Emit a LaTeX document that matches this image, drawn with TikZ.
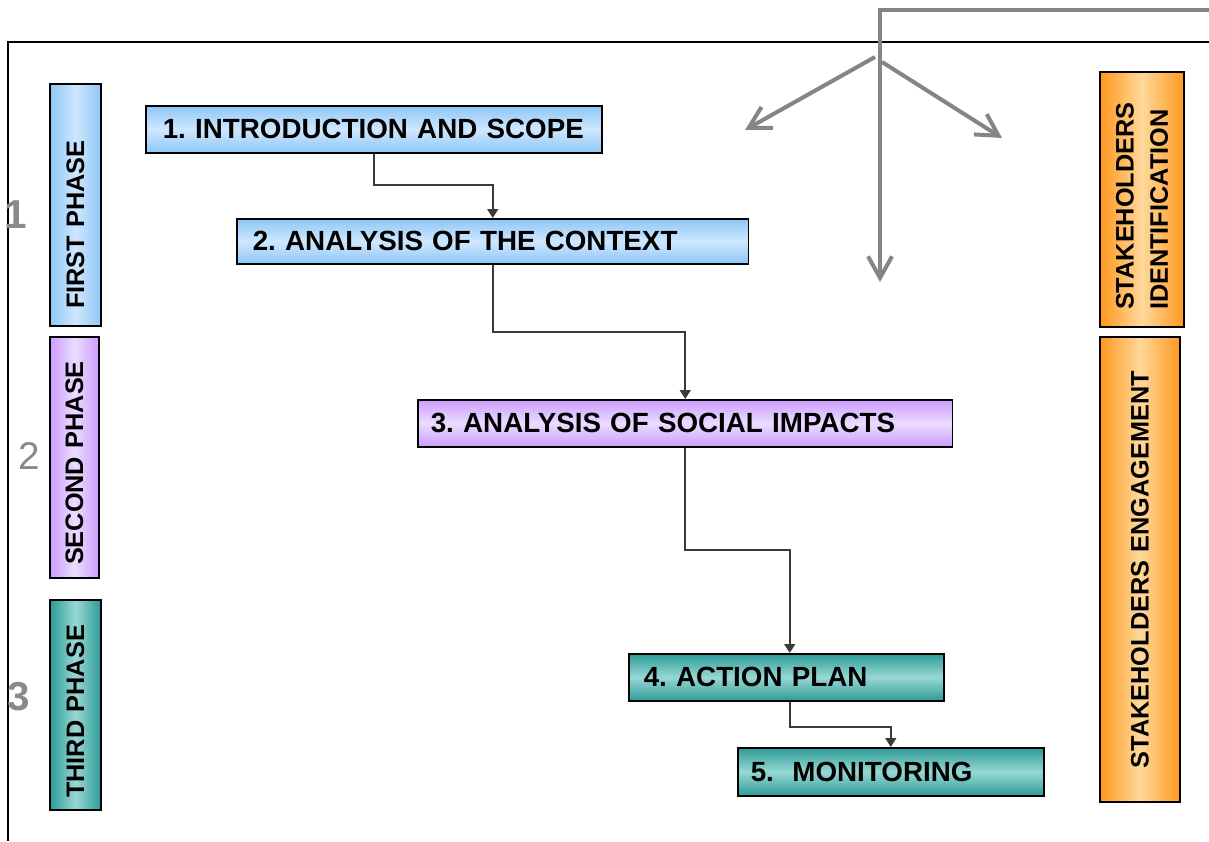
\documentclass[tikz,border=0pt]{standalone}
\usepackage{fontspec}
\setmainfont{Liberation Sans}
\usetikzlibrary{arrows.meta}
\definecolor{blueE}{HTML}{8EC6F6}
\definecolor{blueM}{HTML}{CFE7FF}
\definecolor{purpE}{HTML}{CC9CFF}
\definecolor{purpM}{HTML}{EBDCFF}
\definecolor{tealE}{HTML}{2C9B97}
\definecolor{tealM}{HTML}{98D8D4}
\definecolor{oranE}{HTML}{FF981E}
\definecolor{oranM}{HTML}{FFD89A}
\definecolor{garrow}{HTML}{858585}
\definecolor{conncol}{HTML}{3A3A3A}
\definecolor{numcol}{HTML}{8A8A8A}
\frenchspacing
\begin{document}
\begin{tikzpicture}[x=0.02cm,y=-0.02cm,
  boxfont/.style={font=\fontsize{15.8}{19.5}\selectfont\bfseries},
  vfont/.style={font=\fontsize{14.4}{19.5}\selectfont\bfseries},
  flow/.style={boxfont, draw=black, line width=0.9pt, align=left, anchor=north west, inner ysep=0pt},
  vbox/.style={vfont, draw=black, line width=0.9pt, align=left, rotate=90, anchor=center, inner ysep=0pt},
  hblue/.style={top color=blueE, bottom color=blueE, middle color=blueM},
  hpurp/.style={top color=purpE, bottom color=purpE, middle color=purpM},
  hteal/.style={top color=tealE, bottom color=tealE, middle color=tealM},
  vblue/.style={left color=blueE, right color=blueE, middle color=blueM},
  vpurp/.style={left color=purpE, right color=purpE, middle color=purpM},
  vteal/.style={left color=tealE, right color=tealE, middle color=tealM},
  voran/.style={left color=oranE, right color=oranE, middle color=oranM},
  conn/.style={draw=conncol, line width=1.2pt, -{Triangle[length=5pt,width=6pt]}},
  grayarr/.style={draw=garrow, line width=2.3pt, -{Straight Barb[length=4.3mm,width=4.8mm]}},
  numlabel/.style={text=numcol, font=\fontsize{23}{26}\selectfont\bfseries, inner sep=0pt},
  frame/.style={draw=black, line width=1.2pt}
]
\useasboundingbox (0,0) rectangle (1209,841);

% outer frame
\coordinate (fTR) at (1209,42);
\coordinate (fTL) at (8,42);
\coordinate (fBL) at (8,841);
\draw[frame] (fTR) -- (fTL) -- (fBL);

% phase boxes (left)
\node[vbox, vblue, text width=4.84cm-0.68cm, inner xsep=0.34cm, minimum height=1.02cm] (p1) at (75.5,205) {FIRST PHASE};
\node[vbox, vpurp, text width=4.82cm-0.52cm, inner xsep=0.26cm, minimum height=0.98cm] (p2) at (74.5,457.5) {SECOND PHASE};
\node[vbox, vteal, text width=4.2cm-0.48cm, inner xsep=0.24cm, minimum height=1.02cm] (p3) at (75.5,705) {THIRD PHASE};

% phase numbers
\node[numlabel] (n1) at (16,215) {1};
\node[numlabel, font=\fontsize{22}{26}\selectfont] (n2) at (29,456) {2};
\node[numlabel] (n3) at (19,697) {3};

% flow boxes
\node[flow, hblue, text width=9.12cm-0.68cm, inner xsep=0.34cm, minimum height=0.94cm] (b1) at (145,105) {1. INTRODUCTION AND SCOPE};
\node[flow, hblue, text width=10.24cm-0.64cm, inner xsep=0.32cm, minimum height=0.9cm] (b2) at (236,218) {2. ANALYSIS OF THE CONTEXT};
\node[flow, hpurp, text width=10.7cm-0.52cm, inner xsep=0.26cm, minimum height=0.94cm] (b3) at (417,399) {3. ANALYSIS OF SOCIAL IMPACTS};
\node[flow, hteal, text width=6.3cm-0.6cm, inner xsep=0.3cm, minimum height=0.94cm] (b4) at (628,653) {4. ACTION PLAN};
\node[flow, hteal, text width=6.12cm-0.52cm, inner xsep=0.26cm, minimum height=0.96cm] (b5) at (737,747) {5.\ \ MONITORING};

% stakeholder boxes (right)
\node[vbox, voran, text width=5.1cm-0.68cm, inner xsep=0.34cm, minimum height=1.68cm] (s1) at (1142,199.5) {STAKEHOLDERS\\IDENTIFICATION};
\node[vbox, voran, text width=9.3cm-0.6cm, inner xsep=0.3cm, minimum height=1.6cm, align=center] (s2) at (1140,569.5) {STAKEHOLDERS ENGAGEMENT};

% flow connectors
\draw[conn] (b1.south) -- ++(0,31) -| (b2.north);
\draw[conn] (b2.south) -- ++(0,67) -| (b3.north);
\draw[conn] (b3.south) -- ++(0,102) -| ([xshift=0.07cm]b4.north);
\draw[conn] ([xshift=0.07cm]b4.south) -- ++(0,25) -| (b5.north);

% gray arrows at the top
\coordinate (gR) at (1209,10);
\coordinate (gT) at (880,10);
\coordinate (gD) at (880,282);
\coordinate (gLs) at (875,57);
\coordinate (gLe) at (745,130);
\coordinate (gRs) at (882,62);
\coordinate (gRe) at (1002,138);
\draw[grayarr, line join=miter] (gR) -- (gT) -- (gD);
\draw[grayarr] (gLs) -- (gLe);
\draw[grayarr] (gRs) -- (gRe);
\end{tikzpicture}
\end{document}
